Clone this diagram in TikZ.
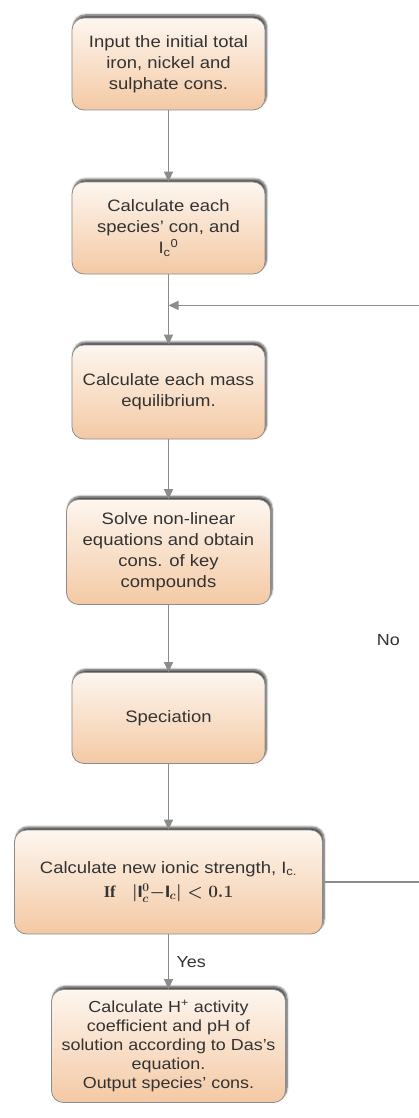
\documentclass[tikz,border=0pt]{standalone}
\usepackage{fontspec}
\setmainfont{Liberation Sans}[FakeStretch=1.12]
\newfontfamily\eqfont{Liberation Serif}
\usetikzlibrary{arrows.meta,shadows.blur}
\definecolor{boxtop}{HTML}{FDF6EF}
\definecolor{boxbot}{HTML}{F4C9A4}
\definecolor{edgegray}{HTML}{8C8C8C}
\definecolor{txtgray}{HTML}{333333}

\begin{document}
\begin{tikzpicture}[x=1pt,y=-1pt,>={Triangle[length=10pt,width=9pt]},node distance=164pt,
    stepbox/.style={draw=edgegray,line width=0.8pt,rounded corners=12pt,top color=boxtop,bottom color=boxbot,
        minimum width=193pt,minimum height=92pt,align=center,text=txtgray,font=\fontsize{16.5}{21}\selectfont,
        blur shadow={shadow xshift=1.5pt,shadow yshift=3pt,shadow opacity=70,shadow blur steps=6}},
    flow/.style={draw=edgegray,line width=1.4pt,->},
    lbl/.style={text=txtgray,font=\fontsize{16}{21}\selectfont}]
    \useasboundingbox (0,0) rectangle (419,1118);

    \node[stepbox] (input) at (168.5,64) {Input the initial total\\iron, nickel and\\sulphate cons.};
    \node[stepbox] (species) [below of=input] {Calculate each\\species' con, and\\I\textsubscript{c}\textsuperscript{0}};
    \node[stepbox,minimum height=94pt] (mass) [below of=species] {Calculate each mass\\equilibrium.};
    \node[stepbox,minimum width=204pt,minimum height=105pt] (solve) [below of=mass,yshift=4pt] {Solve non-linear\\equations and obtain\\cons. of key\\compounds};
    \node[stepbox,minimum height=91pt] (spec) [below of=solve,yshift=-2pt] {Speciation};
    \node[stepbox,minimum width=308pt,minimum height=104pt] (ionic) [below of=spec] {Calculate new ionic strength, I\textsubscript{c.}\\[3pt]{\eqfont\bfseries\boldmath If\quad $\vert\mathrm{I}_c^0{-}\mathrm{I}_c\vert<0.1$}};
    \node[stepbox,minimum width=234pt,minimum height=113pt,font=\fontsize{16}{19}\selectfont] (output) [below of=ionic] {Calculate H\textsuperscript{+} activity\\coefficient and pH of\\solution according to Das's\\equation.\\Output species' cons.};

    % loop back when the ionic strength has not converged
    \path (species.south) ++(0,31) coordinate (join);
    \path (ionic.east) ++(99,0) coordinate (back1);

    \draw[flow] (input) -- (species);
    \draw[flow] (species) -- (mass);
    \draw[flow] (mass) -- (solve);
    \draw[flow] (solve) -- (spec);
    \draw[flow] (spec) -- (ionic);
    \draw[flow] (ionic) -- node[lbl,right=4pt] {Yes} (output);
    \draw[flow] (ionic.east) -- (back1) |- node[lbl,pos=0.21,left=18pt] {No} (join);
\end{tikzpicture}
\end{document}
